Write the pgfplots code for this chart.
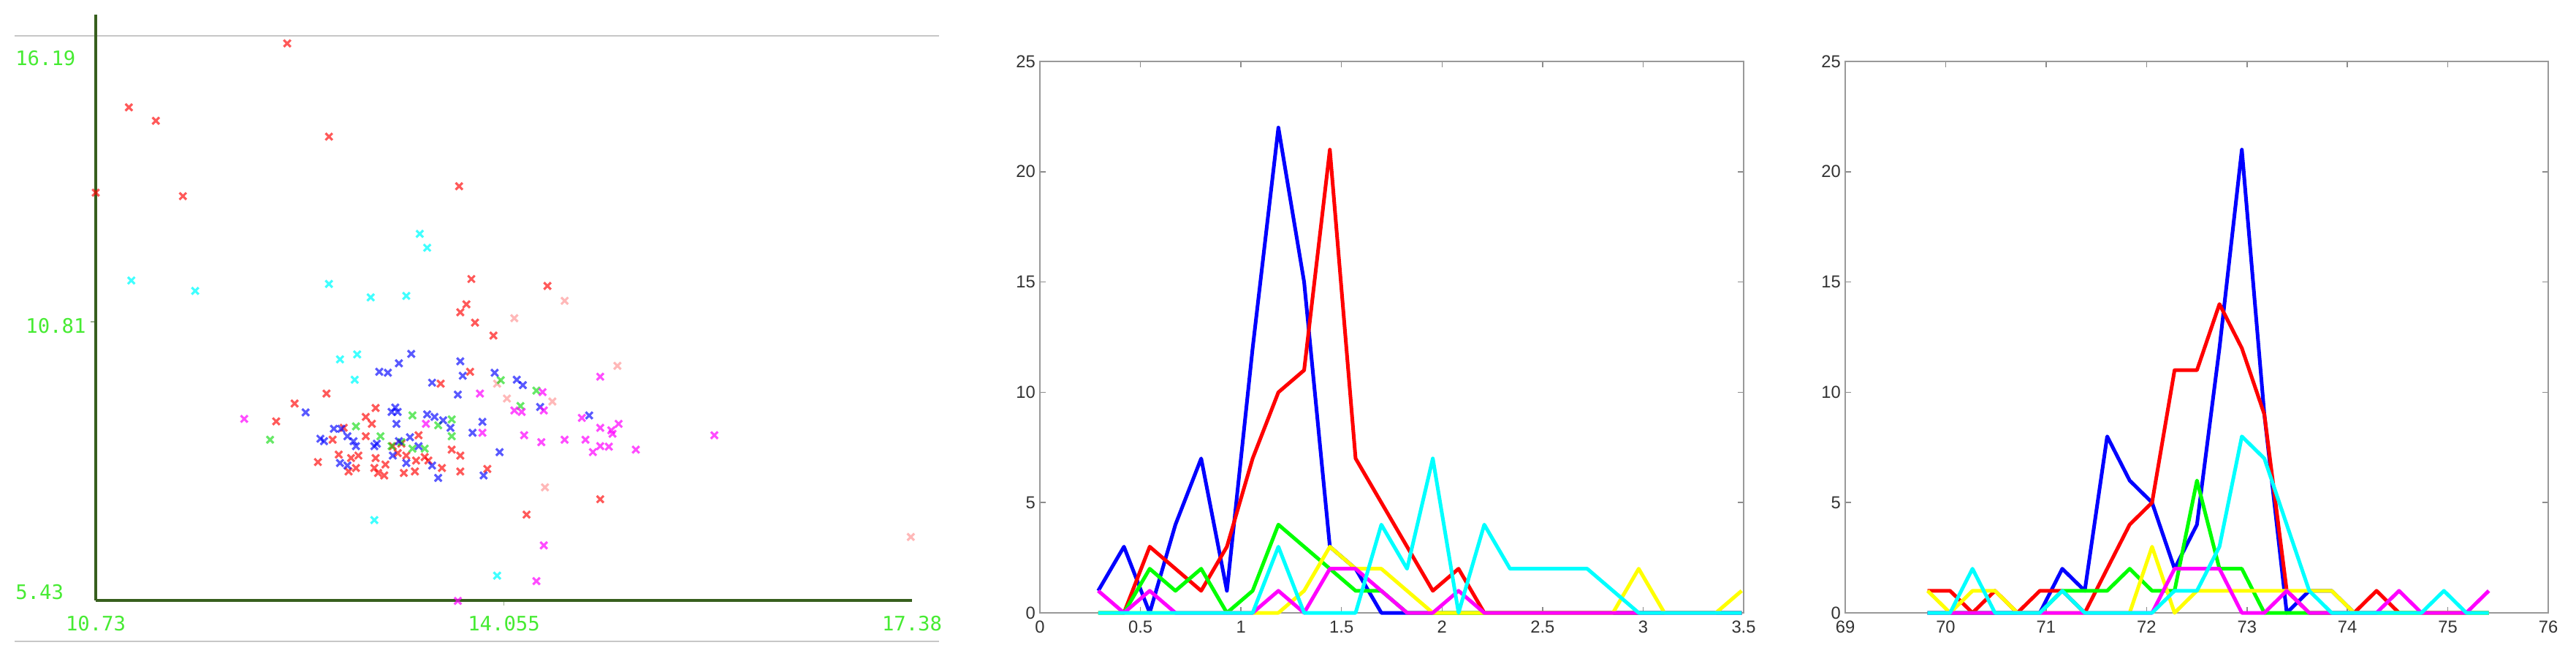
\documentclass[border=0pt]{standalone}
\usepackage{fontspec}
\setmainfont{Liberation Sans}
\setmonofont{DejaVu Sans Mono}
\usepackage{pgfplots}
\usepackage{pgfplotstable}
\pgfplotsset{compat=1.18}

\definecolor{axgreen}{RGB}{55,95,30}
\definecolor{lblgreen}{RGB}{70,235,50}
\definecolor{mblue}{RGB}{0,0,255}
\definecolor{mred}{RGB}{255,0,0}
\definecolor{mgreen}{RGB}{0,255,0}
\definecolor{myellow}{RGB}{255,255,0}
\definecolor{mmagenta}{RGB}{255,0,255}
\definecolor{mcyan}{RGB}{0,255,255}

% histogram counts, left: 0..3.5
\pgfplotstableread{
x      b  r  g  y  m  c
0.290  1  0  0  0  1  0
0.418  3  0  0  0  0  0
0.546  0  3  2  0  1  0
0.674  4  2  1  0  0  0
0.802  7  1  2  0  0  0
0.930  1  3  0  0  0  0
1.058 12  7  1  0  0  0
1.186 22 10  4  0  1  3
1.314 15 11  3  1  0  0
1.442  3 21  2  3  2  0
1.570  2  7  1  2  2  0
1.698  0  5  1  2  1  4
1.826  0  3  0  1  0  2
1.954  0  1  0  0  0  7
2.082  0  2  0  0  1  0
2.210  0  0  0  0  0  4
2.338  0  0  0  0  0  2
2.466  0  0  0  0  0  2
2.594  0  0  0  0  0  2
2.722  0  0  0  0  0  2
2.850  0  0  0  0  0  1
2.978  0  0  0  2  0  0
3.106  0  0  0  0  0  0
3.234  0  0  0  0  0  0
3.362  0  0  0  0  0  0
3.490  0  0  0  1  0  0
}\histA

% histogram counts, right: 69..76
\pgfplotstableread{
x       b  r  g  y  m  c
69.820  0  1  0  1  0  0
70.044  0  1  0  0  0  0
70.267  0  0  0  1  0  2
70.491  0  1  0  1  0  0
70.714  0  0  0  0  0  0
70.938  0  1  0  0  0  0
71.161  2  1  1  0  0  1
71.385  1  0  1  0  0  0
71.608  8  2  1  0  0  0
71.832  6  4  2  0  0  0
72.055  5  5  1  3  0  0
72.279  2 11  1  0  2  1
72.502  4 11  6  1  2  1
72.726 12 14  2  1  2  3
72.949 21 12  2  1  0  8
73.173  9  9  0  1  0  7
73.396  0  1  0  1  1  4
73.620  1  0  0  1  0  1
73.843  1  0  0  1  0  0
74.067  0  0  0  0  0  0
74.290  0  1  0  0  0  0
74.514  0  0  0  0  1  0
74.737  0  0  0  0  0  0
74.961  0  0  0  0  0  1
75.184  0  0  0  0  0  0
75.408  0  0  0  0  1  0
}\histB

\pgfplotsset{
  matlab/.style={
    scale only axis, anchor=south west,
    tick align=inside, tick pos=both, major tick length=0.16cm,
    axis line style={black!40, line width=0.05cm},
    tick style={black!45, line width=0.03cm},
    tick label style={font=\fontsize{13.5}{15}\selectfont, text=black!80},
    xticklabel style={yshift=-0.1cm},
    /pgf/number format/assume math mode=true,
    clip=false,
    every axis plot/.append style={line width=0.1cm, line join=round, no marks},
  },
  pts/.style={only marks, mark=x, mark size=3.8pt,
    mark options={line width=1.8pt}, opacity=#1},
}

\begin{document}
\begin{tikzpicture}
\path[use as bounding box, fill=white] (0,0) rectangle (70.5,17.92);
\draw[black!22, line width=0.04cm] (0.4,16.93) -- (25.7,16.93);
\draw[black!22, line width=0.04cm] (0.4,0.39) -- (25.7,0.39);

% --- scatter
\begin{axis}[at={(2.62cm,1.5cm)}, anchor=south west, scale only axis,
  width=22.34cm, height=16.02cm,
  xmin=10.73, xmax=17.38, ymin=5.19, ymax=17.0,
  axis lines=left, axis line style={-, axgreen, line width=0.08cm},
  xtick={14.055}, ytick={10.81}, xticklabels={}, yticklabels={},
  tick align=outside, major tick length=0.14cm,
  tick style={axgreen!50, line width=0.03cm},
  clip=false]
\addplot[pts=0.65, color=mred] coordinates {
 (12.29,16.42) (11.00,15.13) (11.22,14.86) (12.63,14.54) (10.73,13.41)
 (11.44,13.34) (13.69,13.54) (13.79,11.67) (14.41,11.53) (13.75,11.16)
 (13.70,11.00) (13.82,10.79) (13.97,10.53) (14.84,7.23) (14.24,6.92)
 (12.54,7.98) (12.20,8.80) (12.35,9.16) (12.61,9.36) (13.01,9.07)
 (12.93,8.89) (12.98,8.75) (12.75,8.67) (12.93,8.50) (13.78,9.80)
 (13.54,9.56) (12.66,8.43) (12.71,8.13) (12.81,8.06) (12.85,7.86)
 (12.79,7.79) (12.87,8.11) (13.01,8.06) (13.00,7.86) (13.08,7.71)
 (13.03,7.76) (13.09,7.93) (13.15,8.30) (13.22,8.35) (13.19,8.16)
 (13.26,8.11) (13.24,7.76) (13.33,7.79) (13.34,8.01) (13.41,8.08)
 (13.44,8.01) (13.55,7.86) (13.63,8.23) (13.70,8.11) (13.70,7.79)
 (13.92,7.84) (13.36,8.52)};
\addplot[pts=0.28, color=mred] coordinates {
 (14.00,9.56) (14.08,9.26) (14.55,11.23) (14.14,10.88) (14.98,9.92)
 (14.45,9.20) (14.39,7.47) (17.37,6.47)};
\addplot[pts=0.75, color=mcyan] coordinates {
 (13.37,12.58) (13.43,12.30) (11.02,11.64) (11.54,11.43) (12.63,11.57)
 (12.97,11.30) (13.26,11.33) (12.72,10.05) (12.86,10.15) (12.84,9.64)
 (13.00,6.81) (14.00,5.69)};
\addplot[pts=0.6, color=mgreen!85!black] coordinates {
 (14.03,9.63) (13.31,8.92) (13.52,8.72) (13.63,8.84) (13.63,8.50)
 (12.85,8.70) (13.05,8.50) (13.14,8.30) (13.22,8.38) (13.31,8.25)
 (13.41,8.25) (14.32,9.42) (14.19,9.11) (12.15,8.43)};
\addplot[pts=0.65, color=mblue] coordinates {
 (13.30,10.16) (13.20,9.97) (13.04,9.80) (13.11,9.78) (13.70,10.01)
 (13.72,9.72) (13.98,9.78) (14.16,9.64) (14.21,9.53) (13.47,9.58)
 (13.68,9.34) (12.44,8.98) (13.17,9.08) (13.19,8.99) (13.14,8.99)
 (13.18,8.75) (13.43,8.94) (13.49,8.89) (13.56,8.82) (13.62,8.67)
 (13.88,8.79) (13.80,8.57) (14.02,8.18) (12.67,8.65) (12.73,8.65)
 (12.78,8.50) (12.83,8.40) (12.85,8.30) (12.56,8.45) (12.59,8.40)
 (13.00,8.30) (13.02,8.35) (13.15,8.11) (13.29,8.48) (13.20,8.40)
 (12.72,7.96) (12.78,7.91) (13.26,7.96) (13.47,7.91) (13.52,7.66)
 (13.89,7.71) (13.36,8.30) (14.35,9.09) (14.75,8.92)};
\addplot[pts=0.7, color=mmagenta] coordinates {
 (13.86,9.36) (13.42,8.75) (13.88,8.57) (14.37,9.39) (14.14,9.02)
 (14.20,8.99) (14.38,9.02) (14.84,9.70) (14.69,8.87) (14.84,8.67)
 (14.99,8.75) (14.93,8.62) (14.94,8.55) (14.22,8.52) (14.36,8.38)
 (14.55,8.43) (14.72,8.43) (14.78,8.18) (14.84,8.30) (14.91,8.29)
 (15.13,8.23) (15.77,8.52) (11.94,8.85) (14.38,6.30) (14.32,5.58)
 (13.68,5.18)};
\begin{scope}[every node/.style={font=\fontsize{15.5}{18}\selectfont\ttfamily, text=lblgreen, inner sep=0pt}]
\node[anchor=west] at (axis cs:10.075,16.12) {16.19};
\node[anchor=west] at (axis cs:10.159,10.726) {10.81};
\node[anchor=west] at (axis cs:10.075,5.353) {5.43};
\node at (axis cs:10.73,4.724) {10.73};
\node at (axis cs:14.055,4.724) {14.055};
\node at (axis cs:17.38,4.724) {17.38};
\end{scope}
\end{axis}

% --- middle histogram
\begin{axis}[matlab, at={(28.46cm,1.16cm)}, width=19.26cm, height=15.08cm,
  xmin=0, xmax=3.5, ymin=0, ymax=25,
  xtick={0,0.5,1,1.5,2,2.5,3,3.5}, ytick={0,5,10,15,20,25}]
\addplot[mblue] table[y=b] {\histA};
\addplot[mred] table[y=r] {\histA};
\addplot[mgreen] table[y=g] {\histA};
\addplot[myellow] table[y=y] {\histA};
\addplot[mmagenta] table[y=m] {\histA};
\addplot[mcyan] table[y=c] {\histA};
\end{axis}

% --- right histogram
\begin{axis}[matlab, at={(50.5cm,1.16cm)}, width=19.24cm, height=15.08cm,
  xmin=69, xmax=76, ymin=0, ymax=25,
  xtick={69,70,71,72,73,74,75,76}, ytick={0,5,10,15,20,25}]
\addplot[mblue] table[y=b] {\histB};
\addplot[mred] table[y=r] {\histB};
\addplot[mgreen] table[y=g] {\histB};
\addplot[myellow] table[y=y] {\histB};
\addplot[mmagenta] table[y=m] {\histB};
\addplot[mcyan] table[y=c] {\histB};
\end{axis}
\end{tikzpicture}
\end{document}
